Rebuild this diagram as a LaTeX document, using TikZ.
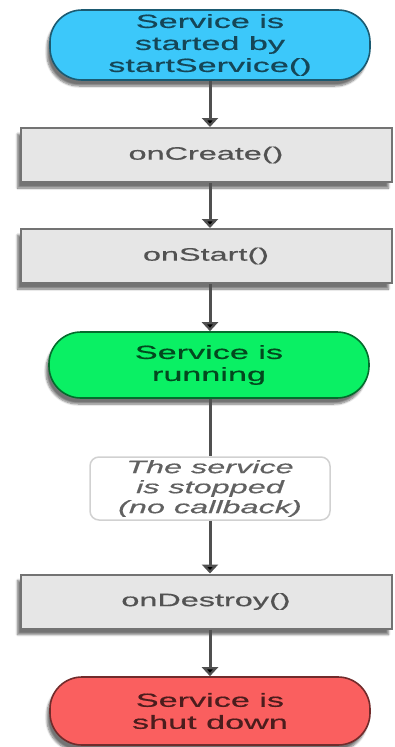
\documentclass[tikz,border=0pt]{standalone}
\usepackage{fontspec}
\setmainfont{Liberation Sans}
\newfontfamily\widefont[FakeStretch=1.8,FakeBold=0.6]{Liberation Sans}
\usetikzlibrary{arrows.meta,shadows.blur}
\definecolor{startblue}{RGB}{60,200,250}
\definecolor{rungreen}{RGB}{10,240,100}
\definecolor{stopred}{RGB}{250,95,95}
\definecolor{boxgray}{RGB}{230,230,230}
\definecolor{boxedge}{RGB}{115,115,115}
\definecolor{linkgray}{RGB}{80,80,80}
\tikzset{
  shade/.style={blur shadow={shadow xshift=-3pt,shadow yshift=-6pt,shadow blur steps=8,shadow opacity=55}},
  pill/.style={rounded corners=32pt,line width=1.6pt,minimum width=320pt,align=center,
    font=\widefont\fontsize{19}{22}\selectfont,inner sep=0pt,shade},
  stagebox/.style={rectangle,fill=boxgray,draw=boxedge,line width=2pt,minimum width=371pt,
    minimum height=54pt,inner sep=0pt,font=\widefont\fontsize{18}{21}\selectfont,text=black!68,shade},
  notebox/.style={rectangle,rounded corners=9pt,draw=black!18,line width=1.5pt,fill=white,
    minimum width=240pt,minimum height=63pt,inner sep=0pt,align=center,
    font=\widefont\itshape\fontsize{18}{20}\selectfont,text=black!62},
  link/.style={draw=linkgray,line width=3pt},
  arrowlink/.style={link,-{Triangle[width=16pt,length=9pt,fill=black]}}
}
\begin{document}
\begin{tikzpicture}[x=1pt,y=-1pt]
  \useasboundingbox (0,0) rectangle (394,747);
  \node[pill,fill=startblue,draw=startblue!45!black,text=startblue!35!black,minimum height=70pt]
    (start) at (210,45) {Service is\\started by\\startService()};
  \node[stagebox] (create) at (206,155) {onCreate()};
  \node[stagebox] (onstart) at (206,256) {onStart()};
  \node[pill,fill=rungreen,draw=rungreen!45!black,text=rungreen!30!black,minimum height=66pt]
    (running) at (209,365) {Service is\\running};
  \node[notebox] (note) at (210,488.5) {The service\\is stopped\\(no callback)};
  \node[stagebox] (destroy) at (206,601.5) {onDestroy()};
  \node[pill,fill=stopred,draw=stopred!45!black,text=stopred!30!black,minimum height=68pt]
    (shut) at (210,711) {Service is\\shut down};

  \draw[arrowlink] (start.south -| 210,0) -- (create.north -| 210,0);
  \draw[arrowlink] (create.south -| 210,0) -- (onstart.north -| 210,0);
  \draw[arrowlink] (onstart.south -| 210,0) -- (running.north -| 210,0);
  \draw[link] (running.south -| 210,0) -- (note.north -| 210,0);
  \draw[arrowlink] (note.south -| 210,0) -- (destroy.north -| 210,0);
  \draw[arrowlink] (destroy.south -| 210,0) -- (shut.north -| 210,0);
\end{tikzpicture}
\end{document}
